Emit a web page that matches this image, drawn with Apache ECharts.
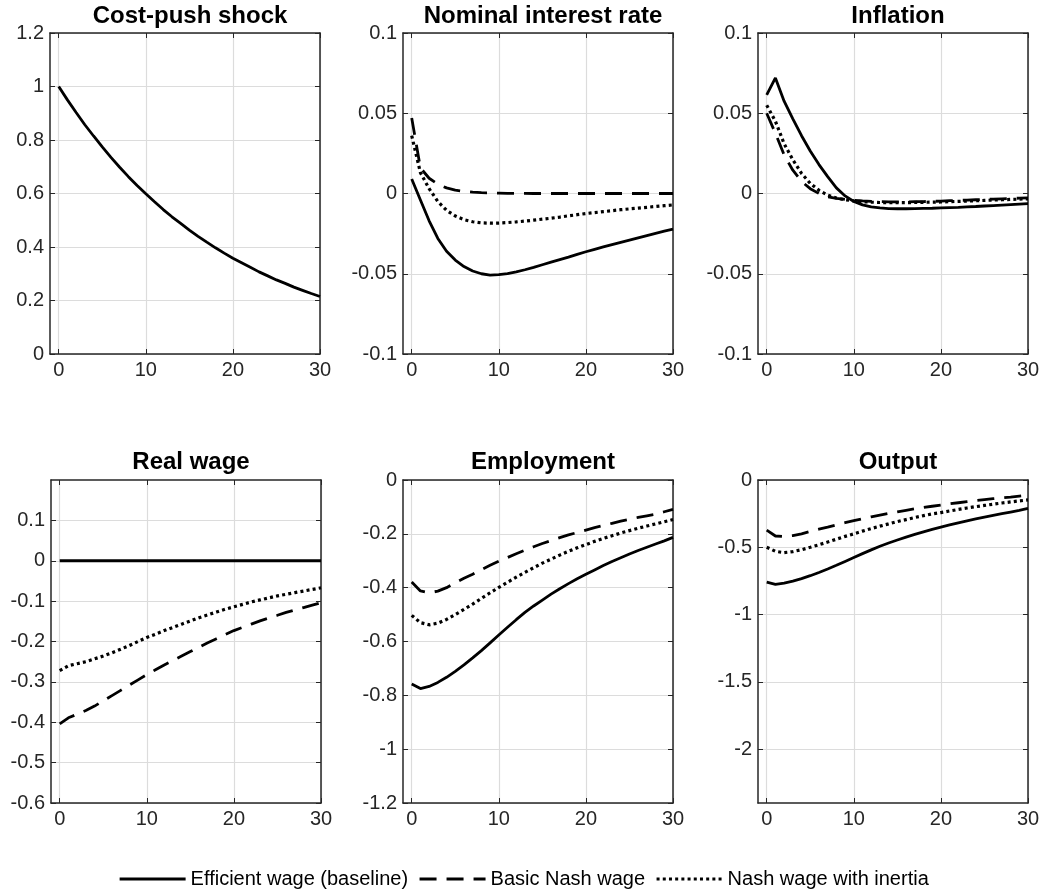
<!DOCTYPE html>
<html>
<head>
<meta charset="utf-8">
<script src="https://cdn.jsdelivr.net/npm/echarts@6/dist/echarts.min.js"></script>
<style>
html,body{margin:0;padding:0;background:#fff;}
#chart{width:1047px;height:895px;}
</style>
</head>
<body>
<div id="chart"></div>
<script>
// ---------------- DATA ----------------
const periods = [0,1,2,3,4,5,6,7,8,9,10,11,12,13,14,15,16,17,18,19,20,21,22,23,24,25,26,27,28,29,30];
const seriesNames = ['Efficient wage (baseline)', 'Basic Nash wage', 'Nash wage with inertia'];
const panelTitles = ['Cost-push shock', 'Nominal interest rate', 'Inflation', 'Real wage', 'Employment', 'Output'];
const xTicks = [0, 10, 20, 30];
const yTicksShock = [0, 0.2, 0.4, 0.6, 0.8, 1, 1.2];
const yTicksRate = [-0.1, -0.05, 0, 0.05, 0.1];
const yTicksInfl = [-0.1, -0.05, 0, 0.05, 0.1];
const yTicksWage = [-0.6, -0.5, -0.4, -0.3, -0.2, -0.1, 0, 0.1];
const yTicksEmp = [-1.2, -1, -0.8, -0.6, -0.4, -0.2, 0];
const yTicksOut = [-2, -1.5, -1, -0.5, 0];

const shockEff = [1.000,0.950,0.903,0.857,0.815,0.774,0.735,0.698,0.663,0.630,0.599,0.569,0.540,0.513,0.488,0.463,0.440,0.418,0.397,0.377,0.358,0.341,0.324,0.307,0.292,0.277,0.264,0.250,0.238,0.226,0.215];

const rateEff = [0.009,-0.004,-0.017,-0.028,-0.036,-0.0415,-0.0455,-0.0483,-0.0500,-0.0508,-0.0506,-0.0499,-0.0488,-0.0475,-0.0460,-0.0444,-0.0428,-0.0412,-0.0396,-0.0379,-0.0363,-0.0348,-0.0333,-0.0318,-0.0304,-0.0290,-0.0276,-0.0262,-0.0248,-0.0235,-0.0222];
const rateNash = [0.047,0.016,0.0095,0.0058,0.0035,0.0021,0.0013,0.0008,0.0005,0.0003,0.0002,0.0001,0.0001,0.0001,0,0,0,0,0,0,0,0,0,0,0,0,0,0,0,0,0];
const rateInertia = [0.036,0.013,0.003,-0.005,-0.0105,-0.014,-0.0163,-0.0176,-0.0183,-0.0185,-0.0184,-0.0181,-0.0177,-0.0172,-0.0166,-0.0160,-0.0154,-0.0147,-0.0139,-0.0132,-0.0125,-0.0119,-0.0113,-0.0107,-0.0101,-0.0096,-0.0091,-0.0086,-0.0081,-0.0076,-0.0071];

const inflEff = [0.0615,0.072,0.0575,0.0465,0.036,0.0265,0.018,0.0105,0.0035,-0.0015,-0.005,-0.0071,-0.0083,-0.009,-0.0094,-0.0095,-0.0095,-0.0094,-0.0093,-0.0092,-0.009,-0.0088,-0.0086,-0.0083,-0.0081,-0.0078,-0.0075,-0.0072,-0.0069,-0.0066,-0.0063];
const inflNash = [0.05,0.0375,0.024,0.0145,0.0075,0.003,0.0,-0.002,-0.003,-0.0037,-0.0042,-0.0046,-0.0049,-0.0051,-0.0052,-0.0052,-0.0052,-0.0051,-0.005,-0.0049,-0.0047,-0.0045,-0.0043,-0.0041,-0.0039,-0.0037,-0.0035,-0.0033,-0.0031,-0.0029,-0.0027];
const inflInertia = [0.055,0.045,0.031,0.021,0.0125,0.0063,0.002,-0.001,-0.0028,-0.0039,-0.0046,-0.0051,-0.0054,-0.0056,-0.0057,-0.0057,-0.0057,-0.0056,-0.0055,-0.0054,-0.0053,-0.0051,-0.0049,-0.0047,-0.0045,-0.0043,-0.0041,-0.0039,-0.0037,-0.0035,-0.0033];

const wageEff = [0,0,0,0,0,0,0,0,0,0,0,0,0,0,0,0,0,0,0,0,0,0,0,0,0,0,0,0,0,0,0];
const wageNash = [-0.404,-0.389,-0.380,-0.371,-0.360,-0.347,-0.334,-0.321,-0.308,-0.295,-0.282,-0.270,-0.258,-0.247,-0.236,-0.225,-0.214,-0.203,-0.193,-0.183,-0.173,-0.165,-0.157,-0.149,-0.142,-0.135,-0.128,-0.122,-0.116,-0.110,-0.104];
const wageInertia = [-0.272,-0.260,-0.255,-0.250,-0.243,-0.236,-0.228,-0.219,-0.210,-0.200,-0.190,-0.182,-0.173,-0.165,-0.157,-0.149,-0.141,-0.134,-0.127,-0.120,-0.114,-0.108,-0.102,-0.097,-0.092,-0.087,-0.083,-0.079,-0.075,-0.071,-0.067];

const empEff = [-0.758,-0.775,-0.767,-0.752,-0.733,-0.711,-0.687,-0.661,-0.634,-0.605,-0.576,-0.547,-0.519,-0.492,-0.468,-0.446,-0.424,-0.404,-0.385,-0.367,-0.350,-0.334,-0.318,-0.303,-0.289,-0.275,-0.262,-0.250,-0.238,-0.226,-0.213];
const empNash = [-0.379,-0.412,-0.419,-0.413,-0.400,-0.382,-0.365,-0.350,-0.333,-0.317,-0.302,-0.288,-0.274,-0.261,-0.248,-0.236,-0.225,-0.214,-0.204,-0.195,-0.186,-0.177,-0.169,-0.161,-0.153,-0.146,-0.139,-0.133,-0.127,-0.118,-0.109];
const empInertia = [-0.503,-0.530,-0.538,-0.532,-0.518,-0.500,-0.481,-0.461,-0.440,-0.419,-0.399,-0.380,-0.361,-0.343,-0.326,-0.309,-0.294,-0.279,-0.265,-0.252,-0.240,-0.228,-0.217,-0.207,-0.197,-0.188,-0.179,-0.171,-0.163,-0.155,-0.147];

const outEff = [-0.759,-0.776,-0.767,-0.752,-0.733,-0.711,-0.687,-0.661,-0.634,-0.605,-0.576,-0.547,-0.519,-0.492,-0.468,-0.446,-0.424,-0.404,-0.385,-0.367,-0.350,-0.334,-0.318,-0.303,-0.289,-0.275,-0.262,-0.250,-0.238,-0.226,-0.211];
const outNash = [-0.373,-0.416,-0.419,-0.413,-0.400,-0.382,-0.365,-0.350,-0.333,-0.317,-0.302,-0.288,-0.274,-0.261,-0.248,-0.236,-0.225,-0.214,-0.204,-0.195,-0.186,-0.177,-0.169,-0.161,-0.153,-0.146,-0.139,-0.133,-0.127,-0.120,-0.114];
const outInertia = [-0.500,-0.530,-0.540,-0.532,-0.518,-0.500,-0.481,-0.461,-0.440,-0.419,-0.400,-0.380,-0.361,-0.343,-0.326,-0.309,-0.294,-0.279,-0.265,-0.252,-0.242,-0.230,-0.219,-0.208,-0.198,-0.189,-0.180,-0.171,-0.163,-0.155,-0.148];

// ---------------- LAYOUT / STYLE ----------------
const FONT = '"Liberation Sans", Arial, Helvetica, sans-serif';
const AXC = '#262626';
const grids = [
  {left: 50, top: 33, width: 270, height: 321},
  {left: 403, top: 33, width: 270, height: 321},
  {left: 758, top: 33, width: 270, height: 321},
  {left: 51, top: 480, width: 270, height: 323},
  {left: 403, top: 480, width: 270, height: 323},
  {left: 758, top: 480, width: 270, height: 323}
];
const panels = [
  {yMin: 0, yMax: 1.2, yTicks: yTicksShock, lines: [shockEff]},
  {yMin: -0.1, yMax: 0.1, yTicks: yTicksRate, lines: [rateEff, rateNash, rateInertia]},
  {yMin: -0.1, yMax: 0.1, yTicks: yTicksInfl, lines: [inflEff, inflNash, inflInertia]},
  {yMin: -0.6, yMax: 0.2, yTicks: yTicksWage, lines: [wageEff, wageNash, wageInertia]},
  {yMin: -1.2, yMax: 0, yTicks: yTicksEmp, lines: [empEff, empNash, empInertia]},
  {yMin: -2.4, yMax: 0, yTicks: yTicksOut, lines: [outEff, outNash, outInertia]}
];
const lineStyles = [
  {color: '#000', width: 2.8, type: 'solid'},
  {color: '#000', width: 2.8, type: [17, 10]},
  {color: '#000', width: 3.2, type: [3, 3.2]}
];

const xAxes = [], yAxes = [], series = [], titles = [];
const axLine = {show: true, onZero: false, lineStyle: {color: AXC, width: 1.5}};
const tickStyle = {color: AXC, width: 1};

panels.forEach((p, i) => {
  const g = grids[i];
  titles.push({
    text: panelTitles[i],
    left: g.left + g.width / 2,
    top: i < 3 ? -1 : 445,
    textAlign: 'center',
    textStyle: {fontFamily: FONT, fontSize: 24, fontWeight: 'bold', color: '#000'}
  });
  xAxes.push({
    type: 'value', gridIndex: i, min: -1, max: 30, position: 'bottom',
    axisLine: axLine,
    axisTick: {show: true, inside: true, length: 5, customValues: xTicks, lineStyle: tickStyle},
    axisLabel: {show: true, customValues: xTicks, fontFamily: FONT, fontSize: 20, color: AXC, margin: 6},
    splitLine: {show: true, lineStyle: {color: '#dcdcdc', width: 1.2}}
  });
  xAxes.push({
    type: 'value', gridIndex: i, min: -1, max: 30, position: 'top',
    axisLine: axLine,
    axisTick: {show: true, inside: true, length: 5, customValues: xTicks, lineStyle: tickStyle},
    axisLabel: {show: false},
    splitLine: {show: false}
  });
  yAxes.push({
    type: 'value', gridIndex: i, min: p.yMin, max: p.yMax, position: 'left',
    axisLine: axLine,
    axisTick: {show: true, inside: true, length: 5, customValues: p.yTicks, lineStyle: tickStyle},
    axisLabel: {show: true, customValues: p.yTicks, fontFamily: FONT, fontSize: 20, color: AXC, margin: 6},
    splitLine: {show: true, lineStyle: {color: '#dcdcdc', width: 1.2}}
  });
  yAxes.push({
    type: 'value', gridIndex: i, min: p.yMin, max: p.yMax, position: 'right',
    axisLine: axLine,
    axisTick: {show: true, inside: true, length: 5, customValues: p.yTicks, lineStyle: tickStyle},
    axisLabel: {show: false},
    splitLine: {show: false}
  });
  p.lines.forEach((arr, k) => {
    series.push({
      name: seriesNames[k],
      type: 'line',
      xAxisIndex: 2 * i,
      yAxisIndex: 2 * i,
      data: periods.map((t, j) => [t, arr[j]]),
      symbol: 'none',
      smooth: false,
      silent: true,
      animation: false,
      itemStyle: {color: '#000'},
      lineStyle: lineStyles[k],
      z: 3 + k
    });
  });
});

const option = {
  backgroundColor: '#ffffff',
  animation: false,
  title: titles,
  grid: grids,
  xAxis: xAxes,
  yAxis: yAxes,
  series: series,
  legend: {
    show: true,
    orient: 'horizontal',
    left: 'center',
    bottom: 1,
    icon: 'inherit',
    itemWidth: 66,
    itemHeight: 14,
    itemGap: 10,
    itemStyle: {opacity: 0, borderWidth: 0},
    textStyle: {fontFamily: FONT, fontSize: 20, color: '#000'},
    data: seriesNames.map((n, k) => ({
      name: n,
      lineStyle: {width: k === 2 ? 3 : 2.8, type: lineStyles[k].type, color: '#000'}
    }))
  }
};

const chart = echarts.init(document.getElementById('chart'), null, {renderer: 'canvas'});
chart.setOption(option);
</script>
</body>
</html>
